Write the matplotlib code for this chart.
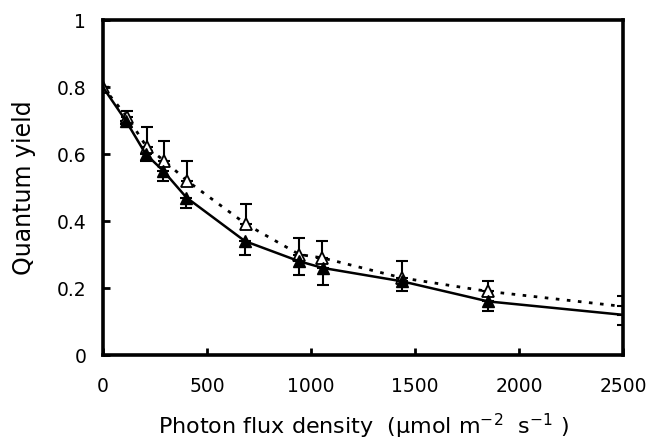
import matplotlib
matplotlib.use('Agg')
import matplotlib.pyplot as plt

plt.rcParams['font.family'] = ['DejaVu Sans']
plt.rcParams['mathtext.default'] = 'regular'

# filled triangles (solid line)
pfd_filled = [0, 110, 206, 290, 402, 683, 943, 1057, 1438, 1852, 2500]
qy_filled = [0.80, 0.70, 0.60, 0.55, 0.47, 0.34, 0.28, 0.26, 0.22, 0.16, 0.12]
err_filled = [0.0, 0.01, 0.02, 0.03, 0.03, 0.04, 0.04, 0.05, 0.03, 0.03, 0.03]

# open triangles (dotted line)
pfd_open = [0, 118, 212, 295, 405, 690, 945, 1055, 1440, 1850, 2500]
qy_open = [0.80, 0.71, 0.62, 0.58, 0.52, 0.39, 0.30, 0.29, 0.23, 0.19, 0.145]
err_open = [0.0, 0.02, 0.06, 0.06, 0.06, 0.06, 0.05, 0.05, 0.05, 0.03, 0.03]

fig = plt.figure(figsize=(6.51, 4.46), dpi=100)
ax = fig.add_axes([0.158, 0.204, 0.799, 0.751])

ax.errorbar(pfd_open, qy_open, yerr=[[0] * len(err_open), err_open],
            fmt='none', ecolor='black', elinewidth=1.5, capsize=4, capthick=1.5)
ax.errorbar(pfd_filled, qy_filled, yerr=[err_filled, [0] * len(err_filled)],
            fmt='none', ecolor='black', elinewidth=1.5, capsize=4, capthick=1.5)

ax.plot(pfd_open, qy_open, color='black', linewidth=2, linestyle=(0, (1.3, 2.7)),
        marker='^', markersize=8, markerfacecolor='white', markeredgecolor='black',
        markeredgewidth=1.3, markevery=list(range(len(pfd_open) - 1)))
ax.plot(pfd_filled, qy_filled, color='black', linewidth=1.8, linestyle='solid',
        marker='^', markersize=8, markerfacecolor='black', markeredgecolor='black',
        markevery=list(range(1, len(pfd_filled) - 1)))

ax.set_xlim(0, 2500)
ax.set_ylim(0, 1)
ax.set_xticks([0, 500, 1000, 1500, 2000, 2500])
ax.set_yticks([0, 0.2, 0.4, 0.6, 0.8, 1])
ax.set_yticklabels(['0', '0.2', '0.4', '0.6', '0.8', '1'])

for s in ax.spines.values():
    s.set_linewidth(2.6)
ax.tick_params(direction='in', length=5, width=2, labelsize=13.5)
ax.tick_params(axis='x', pad=16)
ax.tick_params(axis='y', pad=12)

ax.set_xlabel('Photon flux density  (µmol m$^{-2}$  s$^{-1}$ )', fontsize=16, labelpad=11)
ax.set_ylabel('Quantum yield', fontsize=17, labelpad=15)

fig.savefig('out.png', dpi=100)
